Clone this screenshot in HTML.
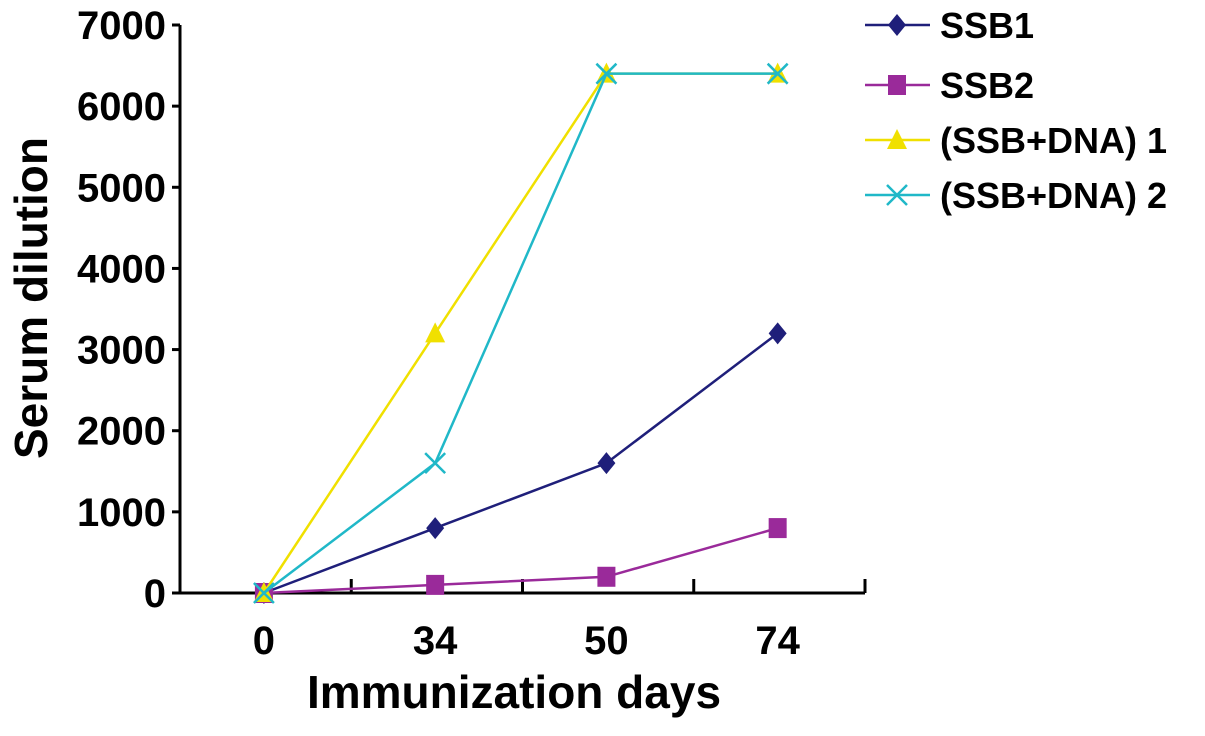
<!DOCTYPE html>
<html><head><meta charset="utf-8"><style>
body{margin:0;background:#fff;}
svg text{font-family:"Liberation Sans",sans-serif;font-weight:bold;fill:#000;}
</style></head><body>
<svg width="1205" height="731" viewBox="0 0 1205 731">
<g id="axes"></g><g id="series"></g><g id="legend"></g>
</svg>
<script>
const categories=["0","34","50","74"];
const ssb1=[0,800,1600,3200];
const ssb2=[0,100,200,800];
const ssbdna1=[0,3200,6400,6400];
const ssbdna2=[0,1600,6400,6400];
const yTicks=[0,1000,2000,3000,4000,5000,6000,7000];
const seriesNames=["SSB1","SSB2","(SSB+DNA) 1","(SSB+DNA) 2"];
const NS="http://www.w3.org/2000/svg";
const X0=180,X1=865,Y0=593,Y1=25,YMAX=7000;
const step=(X1-X0)/categories.length;
const xs=i=>X0+step*(i+0.49);
const ys=v=>Y0-(v/YMAX)*(Y0-Y1);
function mk(tag,attrs,parent,txt){const e=document.createElementNS(NS,tag);for(const k in attrs)e.setAttribute(k,attrs[k]);if(txt!==undefined)e.textContent=txt;parent.appendChild(e);return e;}
const axes=document.getElementById('axes');
let e=mk('line',{x1:X0,y1:Y1,x2:X0,y2:Y0,stroke:'#000','stroke-width':3},axes);

e=mk('line',{x1:X0,y1:Y0,x2:X1,y2:Y0,stroke:'#000','stroke-width':3},axes);

yTicks.forEach(v=>{
 mk('line',{x1:X0-8,y1:ys(v),x2:X0,y2:ys(v),stroke:'#000','stroke-width':3},axes);
 const t=mk('text',{x:X0-14,y:ys(v)+14,'text-anchor':'end','font-size':40},axes,String(v));
 
 
});
for(let i=1;i<=categories.length;i++){mk('line',{x1:X0+step*i,y1:Y0-14,x2:X0+step*i,y2:Y0,stroke:'#000','stroke-width':3},axes);}
categories.forEach((c,i)=>{
 const t=mk('text',{x:xs(i),y:654,'text-anchor':'middle','font-size':40},axes,c);
 
 
});
e=mk('text',{x:514,y:708,'text-anchor':'middle','font-size':46},axes,'Immunization days');

e=mk('text',{x:0,y:0,'text-anchor':'middle','font-size':46,transform:'translate(47,298) rotate(-90)'},axes,'Serum dilution');


function marker(g,type,x,y,color){
 if(type==='d')mk('polygon',{points:`${x},${y-11} ${x+9},${y} ${x},${y+11} ${x-9},${y}`,fill:color},g);
 else if(type==='s')mk('rect',{x:x-9,y:y-10,width:18,height:20,fill:color},g);
 else if(type==='t')mk('polygon',{points:`${x},${y-11} ${x+10},${y+9} ${x-10},${y+9}`,fill:color},g);
 else {mk('path',{d:`M${x-10},${y-10}L${x+10},${y+10}M${x+10},${y-10}L${x-10},${y+10}`,stroke:color,'stroke-width':2.5},g);}
}
const data=[ssb1,ssb2,ssbdna1,ssbdna2];
const colors=["#1f1f7a","#9a2a9a","#f0e000","#20b8c8"];
const types=["d","s","t","x"];
const sg=document.getElementById('series');
const lg=document.getElementById('legend');
const legY=[25,85,140,195];
data.forEach((arr,si)=>{
 const g=mk('g',{},sg);
 
 
 mk('polyline',{points:arr.map((v,i)=>xs(i)+','+ys(v)).join(' '),fill:'none',stroke:colors[si],'stroke-width':2.5},g);
 arr.forEach((v,i)=>marker(g,types[si],xs(i),ys(v),colors[si]));
 const le=mk('g',{},lg);
 
 
 mk('line',{x1:865,y1:legY[si],x2:930,y2:legY[si],stroke:colors[si],'stroke-width':2.5},le);
 marker(le,types[si],897,legY[si],colors[si]);
 mk('text',{x:940,y:legY[si]+13,'font-size':36},le,seriesNames[si]);
});
</script>
</body></html>
